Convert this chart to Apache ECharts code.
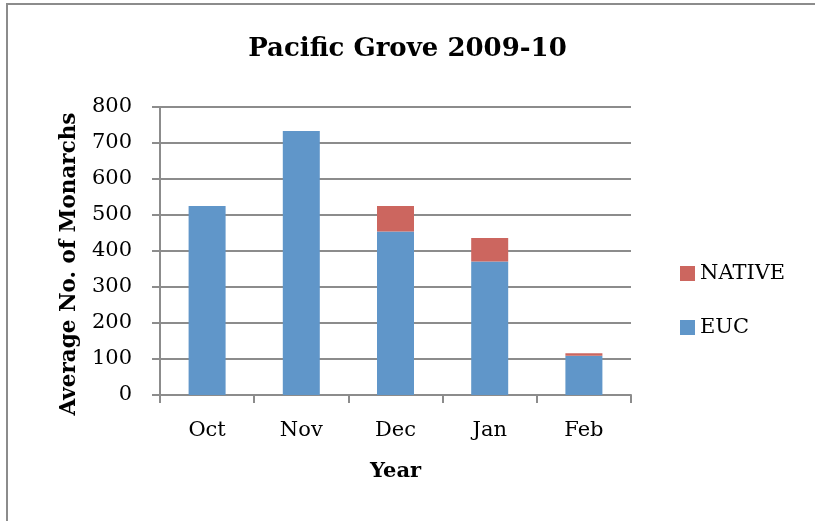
<!DOCTYPE html>
<html><head><meta charset="utf-8">
<script src="https://cdn.jsdelivr.net/npm/echarts@6/dist/echarts.min.js"></script>
<style>html,body{margin:0;padding:0;background:#fff}#c{width:815px;height:521px}</style>
</head><body><div id="c"></div>
<script>
var categories = ['Oct', 'Nov', 'Dec', 'Jan', 'Feb'];
var eucValues = [525, 733, 454, 371, 109];
var nativeValues = [0, 0, 71, 65, 7];
var yTicks = [0, 100, 200, 300, 400, 500, 600, 700, 800];

var chart = echarts.init(document.getElementById('c'));
var font = 'DejaVu Serif';
chart.setOption({
  animation: false,
  backgroundColor: '#fff',
  title: {
    text: 'Pacific Grove 2009-10', left: 'center', top: 31,
    textStyle: { fontFamily: font, fontWeight: 'bold', fontSize: 26, color: '#000' }
  },
  graphic: [{
    type: 'rect', shape: { x: 7, y: 4, width: 830, height: 540 },
    style: { fill: 'none', stroke: '#8c8c8c', lineWidth: 2 }, silent: true
  }, {
    type: 'text', x: 69, y: 264, rotation: Math.PI / 2,
    style: { text: 'Average No. of Monarchs', fontFamily: font, fontWeight: 'bold', fontSize: 21.5,
      fill: '#000', align: 'center', verticalAlign: 'middle' }, silent: true
  }],
  legend: {
    orient: 'vertical', left: 680, top: 263, itemGap: 33, padding: 0,
    itemWidth: 15, itemHeight: 15, icon: 'rect',
    data: ['NATIVE', 'EUC'],
    textStyle: { fontFamily: font, fontSize: 21, color: '#000' }
  },
  grid: { left: 160, right: 184, top: 107, bottom: 126 },
  xAxis: {
    type: 'category', data: categories,
    name: 'Year', nameLocation: 'middle', nameGap: 66,
    nameTextStyle: { fontFamily: font, fontWeight: 'bold', fontSize: 21, color: '#000' },
    axisLine: { lineStyle: { color: '#8c8c8c', width: 2 } },
    axisTick: { show: true, length: 8, alignWithLabel: false, lineStyle: { color: '#8c8c8c', width: 2 } },
    axisLabel: { fontFamily: font, fontSize: 21, color: '#000', margin: 25 }
  },
  yAxis: {
    type: 'value', min: 0, max: 800, interval: 100,
    axisLine: { show: true, lineStyle: { color: '#8c8c8c', width: 2 } },
    axisTick: { show: true, length: 8, lineStyle: { color: '#8c8c8c', width: 2 } },
    axisLabel: { fontFamily: font, fontSize: 21, color: '#000', margin: 28,
      formatter: function (v) { return yTicks.indexOf(v) >= 0 ? String(v) : ''; } },
    splitLine: { lineStyle: { color: '#8c8c8c', width: 2 } }
  },
  series: [
    { name: 'EUC', type: 'bar', stack: 's', data: eucValues, barWidth: 37,
      itemStyle: { color: '#6096c9' } },
    { name: 'NATIVE', type: 'bar', stack: 's', data: nativeValues, barWidth: 37,
      itemStyle: { color: '#cc665f' } }
  ]
});
</script></body></html>
